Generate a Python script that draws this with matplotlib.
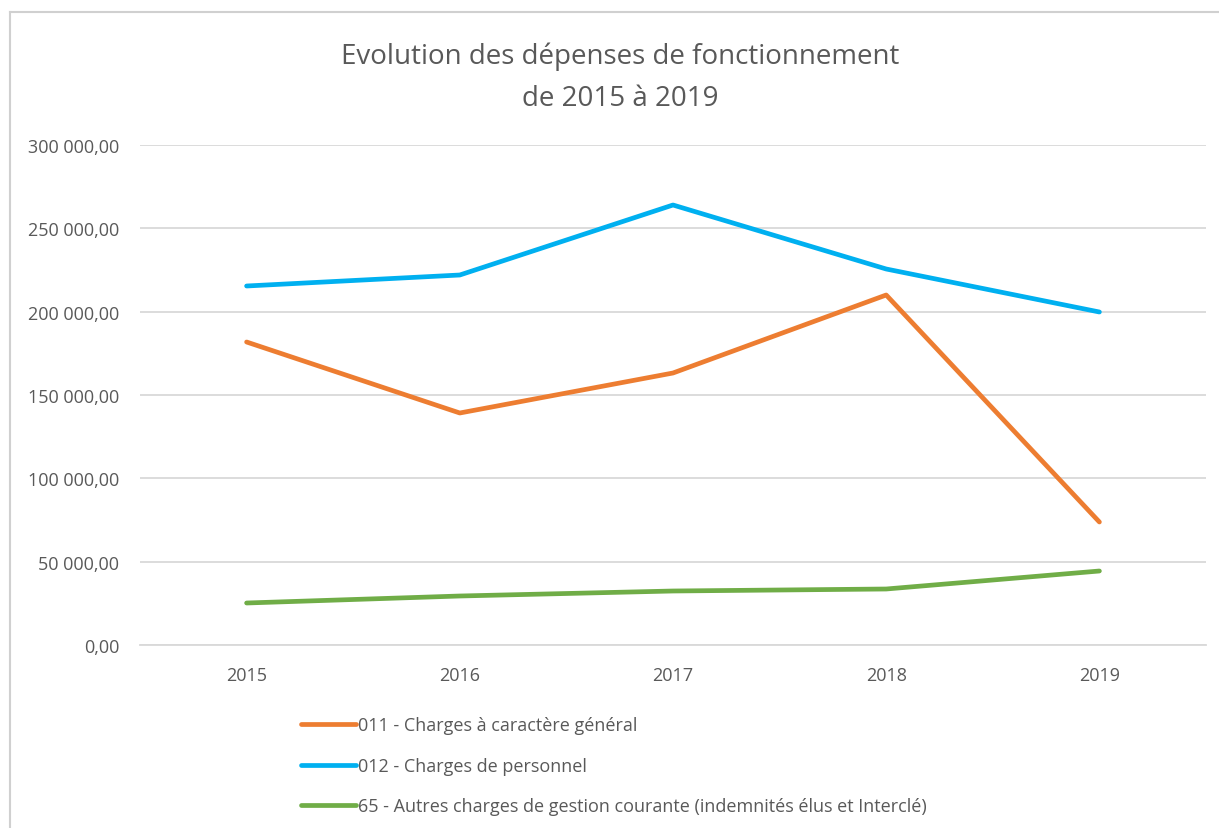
import numpy as np
import matplotlib.pyplot as plt
from matplotlib.lines import Line2D
from matplotlib.ticker import FuncFormatter

years = ['2015', '2016', '2017', '2018', '2019']
charges_generales = [181800, 139200, 163200, 210000, 73800]
charges_personnel = [215400, 222000, 264000, 225600, 199800]
autres_charges = [25200, 29400, 32400, 33600, 44400]
labels = ['011 - Charges à caractère général',
          '012 - Charges de personnel',
          '65 - Autres charges de gestion courante (indemnités élus et Interclé)']
colors = ['#ED7D31', '#00B0F0', '#70AD47']

plt.rcParams['font.family'] = ['Open Sans', 'DejaVu Sans']
grey = '#595959'

fig = plt.figure(figsize=(12.19, 8.29), dpi=100)
ax = fig.add_axes([140 / 1219, 1 - 646 / 829, 1066 / 1219, 500 / 829])

x = np.arange(len(years))
for vals, lab, col in zip([charges_generales, charges_personnel, autres_charges], labels, colors):
    ax.plot(x, vals, color=col, lw=3.4, solid_capstyle='round', label=lab)

ax.set_xlim(-0.5, len(years) - 0.5)
ax.set_ylim(0, 300000)
ax.set_yticks(np.arange(0, 300001, 50000))
ax.yaxis.set_major_formatter(FuncFormatter(lambda v, p: f"{v:,.2f}".replace(',', ' ').replace('.', ',')))
ax.set_xticks(x)
ax.set_xticklabels(years)
ax.grid(axis='y', color='#d9d9d9', lw=1.3)
ax.set_axisbelow(True)
for s in ['top', 'right', 'left']:
    ax.spines[s].set_visible(False)
ax.spines['bottom'].set_color('#d9d9d9')
ax.spines['bottom'].set_linewidth(1.3)
ax.tick_params(axis='both', length=0, labelsize=13, colors=grey)
ax.tick_params(axis='y', pad=15)
ax.tick_params(axis='x', pad=15)

fig.text(0.509, 1 - 57 / 829, 'Evolution des dépenses de fonctionnement', ha='center', va='center',
         fontsize=20, color=grey)
fig.text(0.509, 1 - 99 / 829, 'de 2015 à 2019', ha='center', va='center', fontsize=20, color=grey)

fig.legend(loc='upper left', bbox_to_anchor=(285 / 1219, 1 - 701 / 829), frameon=False,
           fontsize=13, labelcolor=grey, handlelength=3.05, handletextpad=0.1, labelspacing=1.25)

# chart frame
fig.add_artist(Line2D([10 / 1219, 1], [1 - 13 / 829, 1 - 13 / 829], color='#d0d0d0', lw=1.5))
fig.add_artist(Line2D([10 / 1219, 10 / 1219], [0, 1 - 13 / 829], color='#d0d0d0', lw=1.5))

fig.savefig('out.png', dpi=100)
